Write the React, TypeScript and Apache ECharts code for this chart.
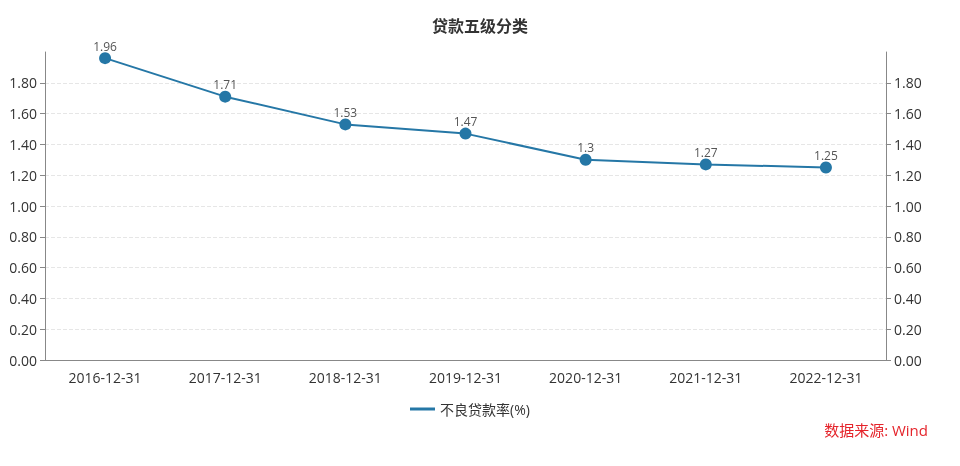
import React, { useEffect, useRef } from "react";
import * as echarts from "echarts";

const categories = ["2016-12-31", "2017-12-31", "2018-12-31", "2019-12-31", "2020-12-31", "2021-12-31", "2022-12-31"];
const nplRatio = [1.96, 1.71, 1.53, 1.47, 1.3, 1.27, 1.25];
const seriesName = "不良贷款率(%)";
const titleText = "贷款五级分类";
const sourceText = "数据来源: Wind";

const FONT = "'Open Sans', 'Noto Sans CJK SC', sans-serif";

export default function App() {
  const ref = useRef<HTMLDivElement>(null);
  useEffect(() => {
    if (!ref.current) return;
    const chart = echarts.init(ref.current, undefined, { renderer: "svg" });
    const yAxisCommon = {
      type: "value",
      min: 0,
      max: 2,
      interval: 0.2,
      axisLine: { show: true, lineStyle: { color: "#888" } },
      axisTick: { show: true, lineStyle: { color: "#888" } },
      axisLabel: {
        color: "#333",
        fontSize: 14,
        fontFamily: FONT,
        showMaxLabel: false,
        formatter: (v: number) => v.toFixed(2),
      },
    };
    chart.setOption({
      animation: false,
      textStyle: { fontFamily: FONT },
      title: {
        text: titleText,
        left: "center",
        top: 12,
        textStyle: { fontSize: 16, fontWeight: "bold", color: "#333", fontFamily: "'Noto Sans CJK SC', sans-serif" },
      },
      grid: { left: 45, right: 74, top: 52, bottom: 106, containLabel: false },
      legend: {
        bottom: 45,
        left: 405,
        itemWidth: 25,
        itemHeight: 14,
        itemGap: 10,
        textStyle: { color: "#333", fontSize: 14, fontFamily: FONT },
        data: [{ name: seriesName, icon: "path://M0,5.5 L25,5.5 L25,8.5 L0,8.5 Z" }],
      },
      xAxis: {
        type: "category",
        data: categories,
        boundaryGap: true,
        axisLine: { lineStyle: { color: "#888" } },
        axisTick: { alignWithLabel: true, lineStyle: { color: "#888" } },
        axisLabel: { color: "#333", fontSize: 14, fontFamily: FONT, margin: 10 },
      },
      yAxis: [
        {
          ...yAxisCommon,
          position: "left",
          splitLine: { show: true, showMaxLine: false, lineStyle: { color: "#e6e6e6", type: "dashed" } },
        },
        {
          ...yAxisCommon,
          position: "right",
          splitLine: { show: false },
        },
      ],
      graphic: [
        {
          type: "text",
          right: 32,
          bottom: 29,
          style: { text: sourceText, fill: "#e5242b", fontSize: 15, fontFamily: FONT },
        },
      ],
      series: [
        {
          name: seriesName,
          type: "line",
          data: nplRatio,
          symbol: "circle",
          symbolSize: 12,
          color: "#2577a6",
          lineStyle: { width: 2, color: "#2577a6" },
          itemStyle: { color: "#2577a6" },
          label: { show: true, position: "top", color: "#555", fontSize: 12, fontFamily: FONT, distance: 0 },
        },
      ],
    });
    return () => chart.dispose();
  }, []);
  return <div ref={ref} style={{ position: "fixed", left: 0, top: 0, width: 960, height: 466 }} />;
}
